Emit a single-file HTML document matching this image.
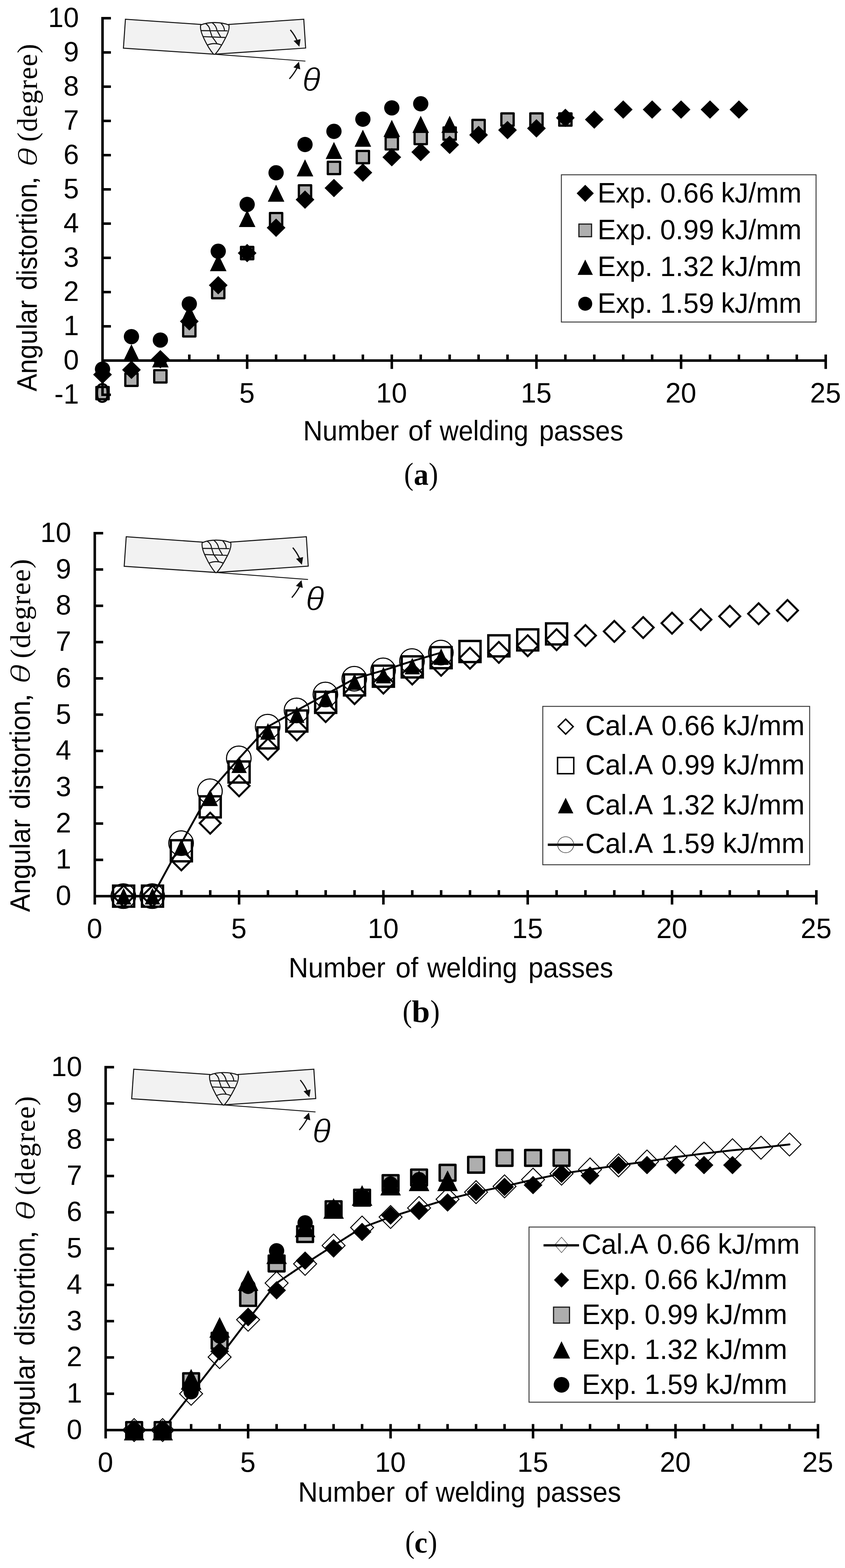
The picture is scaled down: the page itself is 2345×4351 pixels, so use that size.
<!DOCTYPE html>
<html lang="en">
<head>
<meta charset="utf-8">
<title>Angular distortion versus number of welding passes</title>
<style>
html,body{margin:0;padding:0;background:#fff;}
body{width:2345px;height:4351px;overflow:hidden;}
svg{display:block;}
text{fill:#000;}
</style>
</head>
<body>
<svg width="2345" height="4351" viewBox="0 0 2345 4351">
<rect width="2345" height="4351" fill="#fff"/>
<g id="chart-a">
<g transform="translate(348.1 53.3) scale(1 1)" fill="none" stroke="#151515" stroke-width="2.8" stroke-linejoin="miter">
<path d="M0 0L209.7 14.6L246.8 97.2L-5.6 80.4Z" fill="#f2f2f2"/>
<path d="M494.9 0L286.3 14.6L247.2 97.2L500.1 80Z" fill="#f2f2f2"/>
<path d="M246.8 97.2L499.5 116.3" stroke-width="2.4"/>
<path d="M208.8 16.1C222 10.5 236 9.2 246.8 9.2C258 9.2 273 10.5 287.2 16.1C289.5 27 284 41 275.6 56C268 71 258 87 248.8 97.4L244.8 97.4C236 87 226 71 219 56C211.5 41 206.5 27 208.8 16.1Z" fill="#f2f2f2" stroke-width="2.8"/>
<path d="M210 31.7L283.5 32.3M215.2 48.4L277 50.7M227.2 71.8Q246.8 63.5 267.6 72M222.6 12.2Q233.5 19 234.7 31.7L240.6 49Q248 58 254.5 68.5M241.1 10Q252 18 254.3 31.7L264.6 50M265.3 11.5Q274 19.5 275.1 32" stroke-width="2.8"/>
<path d="M457.6 29.6Q470.5 45 477 61" stroke-width="3.4"/>
<path d="M482.6 76.2L466.6 60L486 55.2Z" fill="#111" stroke="none"/>
<path d="M455 165.6Q467 152 476 136" stroke-width="3.4"/>
<path d="M481.6 118L485.2 139.2L466.2 133.6Z" fill="#111" stroke="none"/>
</g>
<text xml:space="preserve"><tspan x="838.82" y="252.19" font-size="90.88" font-family='"Liberation Sans", sans-serif' font-style="italic" stroke="#fff" stroke-width="1.6" stroke-linejoin="round" textLength="50.78" lengthAdjust="spacingAndGlyphs">θ</tspan></text>
<rect x="267.45" y="1073.82" width="34.1" height="34.1" fill="#aeaeae" stroke="#000" stroke-width="6.2" stroke-linejoin="round"/>
<rect x="347.73" y="1036.76" width="34.1" height="34.1" fill="#aeaeae" stroke="#000" stroke-width="6.2" stroke-linejoin="round"/>
<rect x="428.01" y="1027.26" width="34.1" height="34.1" fill="#aeaeae" stroke="#000" stroke-width="6.2" stroke-linejoin="round"/>
<rect x="508.29" y="899.46" width="34.1" height="34.1" fill="#aeaeae" stroke="#000" stroke-width="6.2" stroke-linejoin="round"/>
<rect x="588.57" y="793.51" width="34.1" height="34.1" fill="#aeaeae" stroke="#000" stroke-width="6.2" stroke-linejoin="round"/>
<rect x="668.85" y="685.19" width="34.1" height="34.1" fill="#aeaeae" stroke="#000" stroke-width="6.2" stroke-linejoin="round"/>
<rect x="749.13" y="591.12" width="34.1" height="34.1" fill="#aeaeae" stroke="#000" stroke-width="6.2" stroke-linejoin="round"/>
<rect x="829.41" y="514.15" width="34.1" height="34.1" fill="#aeaeae" stroke="#000" stroke-width="6.2" stroke-linejoin="round"/>
<rect x="909.69" y="448.97" width="34.1" height="34.1" fill="#aeaeae" stroke="#000" stroke-width="6.2" stroke-linejoin="round"/>
<rect x="989.97" y="418.85" width="34.1" height="34.1" fill="#aeaeae" stroke="#000" stroke-width="6.2" stroke-linejoin="round"/>
<rect x="1070.25" y="380.65" width="34.1" height="34.1" fill="#aeaeae" stroke="#000" stroke-width="6.2" stroke-linejoin="round"/>
<rect x="1150.53" y="365.92" width="34.1" height="34.1" fill="#aeaeae" stroke="#000" stroke-width="6.2" stroke-linejoin="round"/>
<rect x="1230.81" y="353.57" width="34.1" height="34.1" fill="#aeaeae" stroke="#000" stroke-width="6.2" stroke-linejoin="round"/>
<rect x="1311.09" y="332.66" width="34.1" height="34.1" fill="#aeaeae" stroke="#000" stroke-width="6.2" stroke-linejoin="round"/>
<rect x="1391.37" y="314.61" width="34.1" height="34.1" fill="#aeaeae" stroke="#000" stroke-width="6.2" stroke-linejoin="round"/>
<rect x="1471.65" y="314.61" width="34.1" height="34.1" fill="#aeaeae" stroke="#000" stroke-width="6.2" stroke-linejoin="round"/>
<rect x="1551.93" y="314.61" width="34.1" height="34.1" fill="#aeaeae" stroke="#000" stroke-width="6.2" stroke-linejoin="round"/>
<path d="M364.78 955L387.78 1002.5L341.78 1002.5Z" fill="#000"/>
<path d="M445.06 972.1L468.06 1019.6L422.06 1019.6Z" fill="#000"/>
<path d="M525.34 845.72L548.34 893.22L502.34 893.22Z" fill="#000"/>
<path d="M605.62 705.09L628.62 752.59L582.62 752.59Z" fill="#000"/>
<path d="M685.9 582.52L708.9 630.02L662.9 630.02Z" fill="#000"/>
<path d="M766.18 512.2L789.18 559.7L743.18 559.7Z" fill="#000"/>
<path d="M846.46 441.89L869.46 489.39L823.46 489.39Z" fill="#000"/>
<path d="M926.74 393.71L949.74 441.21L903.74 441.21Z" fill="#000"/>
<path d="M1007.02 359.79L1030.02 407.29L984.02 407.29Z" fill="#000"/>
<path d="M1087.3 332.61L1110.3 380.11L1064.3 380.11Z" fill="#000"/>
<path d="M1167.58 321.21L1190.58 368.71L1144.58 368.71Z" fill="#000"/>
<path d="M1247.86 321.21L1270.86 368.71L1224.86 368.71Z" fill="#000"/>
<circle cx="284.5" cy="1024.36" r="21.2" fill="#000" stroke="none" stroke-width="0"/>
<circle cx="364.78" cy="934.09" r="21.2" fill="#000" stroke="none" stroke-width="0"/>
<circle cx="445.06" cy="943.59" r="21.2" fill="#000" stroke="none" stroke-width="0"/>
<circle cx="525.34" cy="843.34" r="21.2" fill="#000" stroke="none" stroke-width="0"/>
<circle cx="605.62" cy="697.2" r="21.2" fill="#000" stroke="none" stroke-width="0"/>
<circle cx="685.9" cy="567.31" r="21.2" fill="#000" stroke="none" stroke-width="0"/>
<circle cx="766.18" cy="479.42" r="21.2" fill="#000" stroke="none" stroke-width="0"/>
<circle cx="846.46" cy="401.02" r="21.2" fill="#000" stroke="none" stroke-width="0"/>
<circle cx="926.74" cy="364.44" r="21.2" fill="#000" stroke="none" stroke-width="0"/>
<circle cx="1007.02" cy="330.71" r="21.2" fill="#000" stroke="none" stroke-width="0"/>
<circle cx="1087.3" cy="299.35" r="21.2" fill="#000" stroke="none" stroke-width="0"/>
<circle cx="1167.58" cy="287.95" r="21.2" fill="#000" stroke="none" stroke-width="0"/>
<path d="M284.5 1014.06L310.5 1039.56L284.5 1065.06L258.5 1039.56Z" fill="#000" stroke="none" stroke-width="0"/>
<path d="M364.78 1000.76L390.78 1026.26L364.78 1051.76L338.78 1026.26Z" fill="#000" stroke="none" stroke-width="0"/>
<path d="M445.06 971.3L471.06 996.8L445.06 1022.3L419.06 996.8Z" fill="#000" stroke="none" stroke-width="0"/>
<path d="M525.34 866.3L551.34 891.8L525.34 917.3L499.34 891.8Z" fill="#000" stroke="none" stroke-width="0"/>
<path d="M605.62 766.06L631.62 791.56L605.62 817.06L579.62 791.56Z" fill="#000" stroke="none" stroke-width="0"/>
<path d="M685.9 676.74L711.9 702.24L685.9 727.74L659.9 702.24Z" fill="#000" stroke="none" stroke-width="0"/>
<path d="M766.18 606.42L792.18 631.92L766.18 657.42L740.18 631.92Z" fill="#000" stroke="none" stroke-width="0"/>
<path d="M846.46 528.51L872.46 554.01L846.46 579.51L820.46 554.01Z" fill="#000" stroke="none" stroke-width="0"/>
<path d="M926.74 496.2L952.74 521.7L926.74 547.2L900.74 521.7Z" fill="#000" stroke="none" stroke-width="0"/>
<path d="M1007.02 453.44L1033.02 478.94L1007.02 504.44L981.02 478.94Z" fill="#000" stroke="none" stroke-width="0"/>
<path d="M1087.3 410.68L1113.3 436.18L1087.3 461.68L1061.3 436.18Z" fill="#000" stroke="none" stroke-width="0"/>
<path d="M1167.58 396.43L1193.58 421.93L1167.58 447.43L1141.58 421.93Z" fill="#000" stroke="none" stroke-width="0"/>
<path d="M1247.86 376.47L1273.86 401.97L1247.86 427.47L1221.86 401.97Z" fill="#000" stroke="none" stroke-width="0"/>
<path d="M1328.14 348.92L1354.14 374.42L1328.14 399.92L1302.14 374.42Z" fill="#000" stroke="none" stroke-width="0"/>
<path d="M1408.42 335.62L1434.42 361.12L1408.42 386.62L1382.42 361.12Z" fill="#000" stroke="none" stroke-width="0"/>
<path d="M1488.7 330.86L1514.7 356.36L1488.7 381.86L1462.7 356.36Z" fill="#000" stroke="none" stroke-width="0"/>
<path d="M1568.98 301.41L1594.98 326.91L1568.98 352.41L1542.98 326.91Z" fill="#000" stroke="none" stroke-width="0"/>
<path d="M1649.26 306.16L1675.26 331.66L1649.26 357.16L1623.26 331.66Z" fill="#000" stroke="none" stroke-width="0"/>
<path d="M1729.54 278.6L1755.54 304.1L1729.54 329.6L1703.54 304.1Z" fill="#000" stroke="none" stroke-width="0"/>
<path d="M1809.82 278.6L1835.82 304.1L1809.82 329.6L1783.82 304.1Z" fill="#000" stroke="none" stroke-width="0"/>
<path d="M1890.1 278.6L1916.1 304.1L1890.1 329.6L1864.1 304.1Z" fill="#000" stroke="none" stroke-width="0"/>
<path d="M1970.38 278.6L1996.38 304.1L1970.38 329.6L1944.38 304.1Z" fill="#000" stroke="none" stroke-width="0"/>
<path d="M2050.66 278.6L2076.66 304.1L2050.66 329.6L2024.66 304.1Z" fill="#000" stroke="none" stroke-width="0"/>
<path d="M284.5 46.9L284.5 1099.12M284.5 1000.6L2295 1000.6M284.5 1095.62L307.8 1095.62M284.5 1000.6L307.8 1000.6M284.5 905.58L307.8 905.58M284.5 810.56L307.8 810.56M284.5 715.54L307.8 715.54M284.5 620.52L307.8 620.52M284.5 525.5L307.8 525.5M284.5 430.48L307.8 430.48M284.5 335.46L307.8 335.46M284.5 240.44L307.8 240.44M284.5 145.42L307.8 145.42M284.5 50.4L307.8 50.4M364.78 983.8L364.78 1000.6M445.06 983.8L445.06 1000.6M525.34 983.8L525.34 1000.6M605.62 983.8L605.62 1000.6M685.9 983.8L685.9 1023.8M766.18 983.8L766.18 1000.6M846.46 983.8L846.46 1000.6M926.74 983.8L926.74 1000.6M1007.02 983.8L1007.02 1000.6M1087.3 983.8L1087.3 1023.8M1167.58 983.8L1167.58 1000.6M1247.86 983.8L1247.86 1000.6M1328.14 983.8L1328.14 1000.6M1408.42 983.8L1408.42 1000.6M1488.7 983.8L1488.7 1023.8M1568.98 983.8L1568.98 1000.6M1649.26 983.8L1649.26 1000.6M1729.54 983.8L1729.54 1000.6M1809.82 983.8L1809.82 1000.6M1890.1 983.8L1890.1 1023.8M1970.38 983.8L1970.38 1000.6M2050.66 983.8L2050.66 1000.6M2130.94 983.8L2130.94 1000.6M2211.22 983.8L2211.22 1000.6M2291.5 983.8L2291.5 1023.8" stroke="#000" stroke-width="7" fill="none"/>
<text x="219.2" y="1120.02" font-size="77" text-anchor="end" font-family='"Liberation Sans", sans-serif'>-1</text>
<text x="219.2" y="1025" font-size="77" text-anchor="end" font-family='"Liberation Sans", sans-serif'>0</text>
<text x="219.2" y="929.98" font-size="77" text-anchor="end" font-family='"Liberation Sans", sans-serif'>1</text>
<text x="219.2" y="834.96" font-size="77" text-anchor="end" font-family='"Liberation Sans", sans-serif'>2</text>
<text x="219.2" y="739.94" font-size="77" text-anchor="end" font-family='"Liberation Sans", sans-serif'>3</text>
<text x="219.2" y="644.92" font-size="77" text-anchor="end" font-family='"Liberation Sans", sans-serif'>4</text>
<text x="219.2" y="549.9" font-size="77" text-anchor="end" font-family='"Liberation Sans", sans-serif'>5</text>
<text x="219.2" y="454.88" font-size="77" text-anchor="end" font-family='"Liberation Sans", sans-serif'>6</text>
<text x="219.2" y="359.86" font-size="77" text-anchor="end" font-family='"Liberation Sans", sans-serif'>7</text>
<text x="219.2" y="264.84" font-size="77" text-anchor="end" font-family='"Liberation Sans", sans-serif'>8</text>
<text x="219.2" y="169.82" font-size="77" text-anchor="end" font-family='"Liberation Sans", sans-serif'>9</text>
<text x="219.2" y="74.8" font-size="77" text-anchor="end" font-family='"Liberation Sans", sans-serif'>10</text>
<text x="283.9" y="1116.7" font-size="77" text-anchor="middle" font-family='"Liberation Sans", sans-serif'>0</text>
<text x="685.3" y="1116.7" font-size="77" text-anchor="middle" font-family='"Liberation Sans", sans-serif'>5</text>
<text x="1086.7" y="1116.7" font-size="77" text-anchor="middle" font-family='"Liberation Sans", sans-serif'>10</text>
<text x="1488.1" y="1116.7" font-size="77" text-anchor="middle" font-family='"Liberation Sans", sans-serif'>15</text>
<text x="1889.5" y="1116.7" font-size="77" text-anchor="middle" font-family='"Liberation Sans", sans-serif'>20</text>
<text x="2290.9" y="1116.7" font-size="77" text-anchor="middle" font-family='"Liberation Sans", sans-serif'>25</text>
<text transform="translate(101.9 1086.2) rotate(-90)" xml:space="preserve"><tspan x="-0.18" y="0" font-size="77" font-family='"Liberation Sans", sans-serif' textLength="253.54" lengthAdjust="spacingAndGlyphs">Angular</tspan> <tspan x="281.2" y="0" font-size="77" font-family='"Liberation Sans", sans-serif' textLength="296.18" lengthAdjust="spacingAndGlyphs">distortion</tspan><tspan x="573.15" y="-0.5" font-size="72" font-family='"Liberation Sans", sans-serif' textLength="24.22" lengthAdjust="spacingAndGlyphs">,</tspan> <tspan x="623.31" y="0.75" font-size="74.83" font-family='"Liberation Sans", sans-serif' font-style="italic" stroke="#fff" stroke-width="1.8" stroke-linejoin="round" textLength="53.02" lengthAdjust="spacingAndGlyphs">θ</tspan> <tspan x="692.68" y="0" font-size="78" font-family='"Liberation Serif", serif' textLength="271.68" lengthAdjust="spacing">(degree)</tspan></text>
<text xml:space="preserve"><tspan x="841.14" y="1222.1" font-size="77" font-family='"Liberation Sans", sans-serif' textLength="265.71" lengthAdjust="spacingAndGlyphs">Number</tspan> <tspan x="1132.96" y="1222.1" font-size="77" font-family='"Liberation Sans", sans-serif' textLength="63.67" lengthAdjust="spacingAndGlyphs">of</tspan> <tspan x="1220.28" y="1222.1" font-size="77" font-family='"Liberation Sans", sans-serif' textLength="246.15" lengthAdjust="spacingAndGlyphs">welding</tspan> <tspan x="1496.31" y="1222.1" font-size="77" font-family='"Liberation Sans", sans-serif' textLength="233.65" lengthAdjust="spacingAndGlyphs">passes</tspan></text>
<rect x="1557.9" y="485" width="706.8" height="408.6" fill="#fff" stroke="#3a3a3a" stroke-width="2.6"/>
<path d="M1624.1 512.7L1647.9 536.5L1624.1 560.3L1600.3 536.5Z" fill="#000" stroke="none" stroke-width="0"/>
<rect x="1606.55" y="621.75" width="35.1" height="35.1" fill="#aeaeae" stroke="#1a1a1a" stroke-width="3.2"/>
<path d="M1624.1 720.15L1645.3 762.85L1602.9 762.85Z" fill="#000"/>
<circle cx="1624.1" cy="842.8" r="19.4" fill="#000" stroke="none" stroke-width="0"/>
<text xml:space="preserve"><tspan x="1658.21" y="561.8" font-size="77" font-family='"Liberation Sans", sans-serif' textLength="152.64" lengthAdjust="spacingAndGlyphs">Exp.</tspan> <tspan x="1832.12" y="561.8" font-size="77" font-family='"Liberation Sans", sans-serif' textLength="149.65" lengthAdjust="spacingAndGlyphs">0.66</tspan> <tspan x="2000.97" y="561.8" font-size="77" font-family='"Liberation Sans", sans-serif' textLength="223.57" lengthAdjust="spacingAndGlyphs">kJ/mm</tspan></text>
<text xml:space="preserve"><tspan x="1658.21" y="663.9" font-size="77" font-family='"Liberation Sans", sans-serif' textLength="152.64" lengthAdjust="spacingAndGlyphs">Exp.</tspan> <tspan x="1832.12" y="663.9" font-size="77" font-family='"Liberation Sans", sans-serif' textLength="149.65" lengthAdjust="spacingAndGlyphs">0.99</tspan> <tspan x="2000.97" y="663.9" font-size="77" font-family='"Liberation Sans", sans-serif' textLength="223.57" lengthAdjust="spacingAndGlyphs">kJ/mm</tspan></text>
<text xml:space="preserve"><tspan x="1658.21" y="766.3" font-size="77" font-family='"Liberation Sans", sans-serif' textLength="152.64" lengthAdjust="spacingAndGlyphs">Exp.</tspan> <tspan x="1832.12" y="766.3" font-size="77" font-family='"Liberation Sans", sans-serif' textLength="149.65" lengthAdjust="spacingAndGlyphs">1.32</tspan> <tspan x="2000.97" y="766.3" font-size="77" font-family='"Liberation Sans", sans-serif' textLength="223.57" lengthAdjust="spacingAndGlyphs">kJ/mm</tspan></text>
<text xml:space="preserve"><tspan x="1658.21" y="868.4" font-size="77" font-family='"Liberation Sans", sans-serif' textLength="152.64" lengthAdjust="spacingAndGlyphs">Exp.</tspan> <tspan x="1832.12" y="868.4" font-size="77" font-family='"Liberation Sans", sans-serif' textLength="149.65" lengthAdjust="spacingAndGlyphs">1.59</tspan> <tspan x="2000.97" y="868.4" font-size="77" font-family='"Liberation Sans", sans-serif' textLength="223.57" lengthAdjust="spacingAndGlyphs">kJ/mm</tspan></text>
<text xml:space="preserve"><tspan x="1121.48" y="1343.69" font-size="86.17" font-family='"Liberation Serif", serif' textLength="25.99" lengthAdjust="spacingAndGlyphs">(</tspan><tspan x="1148.33" y="1344.75" font-size="84.58" font-family='"Liberation Serif", serif' font-weight="bold" textLength="41.1" lengthAdjust="spacingAndGlyphs">a</tspan><tspan x="1189.65" y="1343.69" font-size="86.17" font-family='"Liberation Serif", serif' textLength="26.12" lengthAdjust="spacingAndGlyphs">)</tspan></text>
</g>
<g id="chart-b">
<g transform="translate(350.3 1489.4) scale(1.01 1.02)" fill="none" stroke="#151515" stroke-width="2.8" stroke-linejoin="miter">
<path d="M0 0L209.7 14.6L246.8 97.2L-5.6 80.4Z" fill="#f2f2f2"/>
<path d="M494.9 0L286.3 14.6L247.2 97.2L500.1 80Z" fill="#f2f2f2"/>
<path d="M246.8 97.2L499.5 116.3" stroke-width="2.4"/>
<path d="M208.8 16.1C222 10.5 236 9.2 246.8 9.2C258 9.2 273 10.5 287.2 16.1C289.5 27 284 41 275.6 56C268 71 258 87 248.8 97.4L244.8 97.4C236 87 226 71 219 56C211.5 41 206.5 27 208.8 16.1Z" fill="#f2f2f2" stroke-width="2.8"/>
<path d="M210 31.7L283.5 32.3M215.2 48.4L277 50.7M227.2 71.8Q246.8 63.5 267.6 72M222.6 12.2Q233.5 19 234.7 31.7L240.6 49Q248 58 254.5 68.5M241.1 10Q252 18 254.3 31.7L264.6 50M265.3 11.5Q274 19.5 275.1 32" stroke-width="2.8"/>
<path d="M457.6 29.6Q470.5 45 477 61" stroke-width="3.4"/>
<path d="M482.6 76.2L466.6 60L486 55.2Z" fill="#111" stroke="none"/>
<path d="M455 165.6Q467 152 476 136" stroke-width="3.4"/>
<path d="M481.6 118L485.2 139.2L466.2 133.6Z" fill="#111" stroke="none"/>
</g>
<text xml:space="preserve"><tspan x="848.39" y="1693.24" font-size="93.1" font-family='"Liberation Sans", sans-serif' font-style="italic" stroke="#fff" stroke-width="1.6" stroke-linejoin="round" textLength="51.52" lengthAdjust="spacingAndGlyphs">θ</tspan></text>
<path d="M343.1 2457.6L372.2 2486.7L343.1 2515.8L314 2486.7Z" fill="none" stroke="#000" stroke-width="5.5"/>
<path d="M423.2 2457.6L452.3 2486.7L423.2 2515.8L394.1 2486.7Z" fill="none" stroke="#000" stroke-width="5.5"/>
<path d="M503.3 2356.88L532.4 2385.98L503.3 2415.08L474.2 2385.98Z" fill="none" stroke="#000" stroke-width="5.5"/>
<path d="M583.4 2255.15L612.5 2284.25L583.4 2313.35L554.3 2284.25Z" fill="none" stroke="#000" stroke-width="5.5"/>
<path d="M663.5 2151.41L692.6 2180.51L663.5 2209.61L634.4 2180.51Z" fill="none" stroke="#000" stroke-width="5.5"/>
<path d="M743.6 2049.68L772.7 2078.78L743.6 2107.88L714.5 2078.78Z" fill="none" stroke="#000" stroke-width="5.5"/>
<path d="M823.7 1996.3L852.8 2025.4L823.7 2054.5L794.6 2025.4Z" fill="none" stroke="#000" stroke-width="5.5"/>
<path d="M903.8 1945.44L932.9 1974.54L903.8 2003.64L874.7 1974.54Z" fill="none" stroke="#000" stroke-width="5.5"/>
<path d="M983.9 1895.58L1013 1924.68L983.9 1953.78L954.8 1924.68Z" fill="none" stroke="#000" stroke-width="5.5"/>
<path d="M1064 1866.37L1093.1 1895.47L1064 1924.57L1034.9 1895.47Z" fill="none" stroke="#000" stroke-width="5.5"/>
<path d="M1144.1 1841.19L1173.2 1870.29L1144.1 1899.39L1115 1870.29Z" fill="none" stroke="#000" stroke-width="5.5"/>
<path d="M1224.2 1817.02L1253.3 1846.12L1224.2 1875.22L1195.1 1846.12Z" fill="none" stroke="#000" stroke-width="5.5"/>
<path d="M1304.3 1797.38L1333.4 1826.48L1304.3 1855.58L1275.2 1826.48Z" fill="none" stroke="#000" stroke-width="5.5"/>
<path d="M1384.4 1781.27L1413.5 1810.37L1384.4 1839.47L1355.3 1810.37Z" fill="none" stroke="#000" stroke-width="5.5"/>
<path d="M1464.5 1762.63L1493.6 1791.73L1464.5 1820.83L1435.4 1791.73Z" fill="none" stroke="#000" stroke-width="5.5"/>
<path d="M1544.6 1746.01L1573.7 1775.11L1544.6 1804.21L1515.5 1775.11Z" fill="none" stroke="#000" stroke-width="5.5"/>
<path d="M1624.7 1734.43L1653.8 1763.53L1624.7 1792.63L1595.6 1763.53Z" fill="none" stroke="#000" stroke-width="5.5"/>
<path d="M1704.8 1722.95L1733.9 1752.05L1704.8 1781.15L1675.7 1752.05Z" fill="none" stroke="#000" stroke-width="5.5"/>
<path d="M1784.9 1712.27L1814 1741.37L1784.9 1770.47L1755.8 1741.37Z" fill="none" stroke="#000" stroke-width="5.5"/>
<path d="M1865 1700.19L1894.1 1729.29L1865 1758.39L1835.9 1729.29Z" fill="none" stroke="#000" stroke-width="5.5"/>
<path d="M1945.1 1690.11L1974.2 1719.21L1945.1 1748.31L1916 1719.21Z" fill="none" stroke="#000" stroke-width="5.5"/>
<path d="M2025.2 1681.05L2054.3 1710.15L2025.2 1739.25L1996.1 1710.15Z" fill="none" stroke="#000" stroke-width="5.5"/>
<path d="M2105.3 1674L2134.4 1703.1L2105.3 1732.2L2076.2 1703.1Z" fill="none" stroke="#000" stroke-width="5.5"/>
<path d="M2185.4 1664.93L2214.5 1694.03L2185.4 1723.13L2156.3 1694.03Z" fill="none" stroke="#000" stroke-width="5.5"/>
<rect x="313.85" y="2457.45" width="58.5" height="58.5" fill="none" stroke="#000" stroke-width="6.5"/>
<rect x="393.95" y="2457.45" width="58.5" height="58.5" fill="none" stroke="#000" stroke-width="6.5"/>
<rect x="474.05" y="2331.55" width="58.5" height="58.5" fill="none" stroke="#000" stroke-width="6.5"/>
<rect x="554.15" y="2209.68" width="58.5" height="58.5" fill="none" stroke="#000" stroke-width="6.5"/>
<rect x="634.25" y="2112.99" width="58.5" height="58.5" fill="none" stroke="#000" stroke-width="6.5"/>
<rect x="714.35" y="2018.31" width="58.5" height="58.5" fill="none" stroke="#000" stroke-width="6.5"/>
<rect x="794.45" y="1971.48" width="58.5" height="58.5" fill="none" stroke="#000" stroke-width="6.5"/>
<rect x="874.55" y="1919.61" width="58.5" height="58.5" fill="none" stroke="#000" stroke-width="6.5"/>
<rect x="954.65" y="1871.26" width="58.5" height="58.5" fill="none" stroke="#000" stroke-width="6.5"/>
<rect x="1034.75" y="1847.09" width="58.5" height="58.5" fill="none" stroke="#000" stroke-width="6.5"/>
<rect x="1114.85" y="1821.3" width="58.5" height="58.5" fill="none" stroke="#000" stroke-width="6.5"/>
<rect x="1194.95" y="1795.72" width="58.5" height="58.5" fill="none" stroke="#000" stroke-width="6.5"/>
<rect x="1275.05" y="1778.6" width="58.5" height="58.5" fill="none" stroke="#000" stroke-width="6.5"/>
<rect x="1355.15" y="1762.88" width="58.5" height="58.5" fill="none" stroke="#000" stroke-width="6.5"/>
<rect x="1435.25" y="1746.37" width="58.5" height="58.5" fill="none" stroke="#000" stroke-width="6.5"/>
<rect x="1515.35" y="1729.75" width="58.5" height="58.5" fill="none" stroke="#000" stroke-width="6.5"/>
<path d="M343.1 2463.7L364.35 2509.7L321.85 2509.7Z" fill="#000"/>
<path d="M423.2 2463.7L444.45 2509.7L401.95 2509.7Z" fill="#000"/>
<path d="M503.3 2327.73L524.55 2373.73L482.05 2373.73Z" fill="#000"/>
<path d="M583.4 2190.75L604.65 2236.75L562.15 2236.75Z" fill="#000"/>
<path d="M663.5 2099.09L684.75 2145.09L642.25 2145.09Z" fill="#000"/>
<path d="M743.6 2006.43L764.85 2052.43L722.35 2052.43Z" fill="#000"/>
<path d="M823.7 1960.1L844.95 2006.1L802.45 2006.1Z" fill="#000"/>
<path d="M903.8 1913.77L925.05 1959.77L882.55 1959.77Z" fill="#000"/>
<path d="M983.9 1868.44L1005.15 1914.44L962.65 1914.44Z" fill="#000"/>
<path d="M1064 1850.32L1085.25 1896.32L1042.75 1896.32Z" fill="#000"/>
<path d="M1144.1 1825.14L1165.35 1871.14L1122.85 1871.14Z" fill="#000"/>
<path d="M1224.2 1798.95L1245.45 1844.95L1202.95 1844.95Z" fill="#000"/>
<polyline points="343.1,2486.7 423.2,2486.7 503.3,2339.65 583.4,2195.62 663.5,2104.47 743.6,2016.34 823.7,1971.32 903.8,1927.2 983.9,1883.39 1064,1860.22 1144.1,1834.44 1224.2,1810.87" fill="none" stroke="#000" stroke-width="5.2" stroke-linejoin="round" stroke-linecap="round"/>
<circle cx="342.3" cy="2486.7" r="34.15" fill="none" stroke="#000" stroke-width="3"/>
<circle cx="422.4" cy="2486.7" r="34.15" fill="none" stroke="#000" stroke-width="3"/>
<circle cx="502.5" cy="2339.65" r="34.15" fill="none" stroke="#000" stroke-width="3"/>
<circle cx="582.6" cy="2195.62" r="34.15" fill="none" stroke="#000" stroke-width="3"/>
<circle cx="662.7" cy="2104.47" r="34.15" fill="none" stroke="#000" stroke-width="3"/>
<circle cx="742.8" cy="2016.34" r="34.15" fill="none" stroke="#000" stroke-width="3"/>
<circle cx="822.9" cy="1971.32" r="34.15" fill="none" stroke="#000" stroke-width="3"/>
<circle cx="903" cy="1927.2" r="34.15" fill="none" stroke="#000" stroke-width="3"/>
<circle cx="983.1" cy="1883.39" r="34.15" fill="none" stroke="#000" stroke-width="3"/>
<circle cx="1063.2" cy="1860.22" r="34.15" fill="none" stroke="#000" stroke-width="3"/>
<circle cx="1143.3" cy="1834.44" r="34.15" fill="none" stroke="#000" stroke-width="3"/>
<circle cx="1223.4" cy="1810.87" r="34.15" fill="none" stroke="#000" stroke-width="3"/>
<path d="M263 1476L263 2509.9M263 2486.7L2269 2486.7M263 2486.7L286.3 2486.7M263 2385.98L286.3 2385.98M263 2285.26L286.3 2285.26M263 2184.54L286.3 2184.54M263 2083.82L286.3 2083.82M263 1983.1L286.3 1983.1M263 1882.38L286.3 1882.38M263 1781.66L286.3 1781.66M263 1680.94L286.3 1680.94M263 1580.22L286.3 1580.22M263 1479.5L286.3 1479.5M343.1 2469.9L343.1 2486.7M423.2 2469.9L423.2 2486.7M503.3 2469.9L503.3 2486.7M583.4 2469.9L583.4 2486.7M663.5 2469.9L663.5 2509.9M743.6 2469.9L743.6 2486.7M823.7 2469.9L823.7 2486.7M903.8 2469.9L903.8 2486.7M983.9 2469.9L983.9 2486.7M1064 2469.9L1064 2509.9M1144.1 2469.9L1144.1 2486.7M1224.2 2469.9L1224.2 2486.7M1304.3 2469.9L1304.3 2486.7M1384.4 2469.9L1384.4 2486.7M1464.5 2469.9L1464.5 2509.9M1544.6 2469.9L1544.6 2486.7M1624.7 2469.9L1624.7 2486.7M1704.8 2469.9L1704.8 2486.7M1784.9 2469.9L1784.9 2486.7M1865 2469.9L1865 2509.9M1945.1 2469.9L1945.1 2486.7M2025.2 2469.9L2025.2 2486.7M2105.3 2469.9L2105.3 2486.7M2185.4 2469.9L2185.4 2486.7M2265.5 2469.9L2265.5 2509.9" stroke="#000" stroke-width="7" fill="none"/>
<text x="197.7" y="2511.1" font-size="77" text-anchor="end" font-family='"Liberation Sans", sans-serif'>0</text>
<text x="197.7" y="2410.38" font-size="77" text-anchor="end" font-family='"Liberation Sans", sans-serif'>1</text>
<text x="197.7" y="2309.66" font-size="77" text-anchor="end" font-family='"Liberation Sans", sans-serif'>2</text>
<text x="197.7" y="2208.94" font-size="77" text-anchor="end" font-family='"Liberation Sans", sans-serif'>3</text>
<text x="197.7" y="2108.22" font-size="77" text-anchor="end" font-family='"Liberation Sans", sans-serif'>4</text>
<text x="197.7" y="2007.5" font-size="77" text-anchor="end" font-family='"Liberation Sans", sans-serif'>5</text>
<text x="197.7" y="1906.78" font-size="77" text-anchor="end" font-family='"Liberation Sans", sans-serif'>6</text>
<text x="197.7" y="1806.06" font-size="77" text-anchor="end" font-family='"Liberation Sans", sans-serif'>7</text>
<text x="197.7" y="1705.34" font-size="77" text-anchor="end" font-family='"Liberation Sans", sans-serif'>8</text>
<text x="197.7" y="1604.62" font-size="77" text-anchor="end" font-family='"Liberation Sans", sans-serif'>9</text>
<text x="197.7" y="1503.9" font-size="77" text-anchor="end" font-family='"Liberation Sans", sans-serif'>10</text>
<text x="262.4" y="2602.8" font-size="77" text-anchor="middle" font-family='"Liberation Sans", sans-serif'>0</text>
<text x="662.9" y="2602.8" font-size="77" text-anchor="middle" font-family='"Liberation Sans", sans-serif'>5</text>
<text x="1063.4" y="2602.8" font-size="77" text-anchor="middle" font-family='"Liberation Sans", sans-serif'>10</text>
<text x="1463.9" y="2602.8" font-size="77" text-anchor="middle" font-family='"Liberation Sans", sans-serif'>15</text>
<text x="1864.4" y="2602.8" font-size="77" text-anchor="middle" font-family='"Liberation Sans", sans-serif'>20</text>
<text x="2264.9" y="2602.8" font-size="77" text-anchor="middle" font-family='"Liberation Sans", sans-serif'>25</text>
<text transform="translate(82.5 2530.5) rotate(-90)" xml:space="preserve"><tspan x="-0.19" y="0" font-size="77" font-family='"Liberation Sans", sans-serif' textLength="257.47" lengthAdjust="spacingAndGlyphs">Angular</tspan> <tspan x="285.56" y="0" font-size="77" font-family='"Liberation Sans", sans-serif' textLength="300.77" lengthAdjust="spacingAndGlyphs">distortion</tspan><tspan x="582.04" y="-0.5" font-size="72" font-family='"Liberation Sans", sans-serif' textLength="24.6" lengthAdjust="spacingAndGlyphs">,</tspan> <tspan x="632.99" y="0.74" font-size="75.65" font-family='"Liberation Sans", sans-serif' font-style="italic" stroke="#fff" stroke-width="1.8" stroke-linejoin="round" textLength="53.81" lengthAdjust="spacingAndGlyphs">θ</tspan> <tspan x="703.47" y="0" font-size="78" font-family='"Liberation Serif", serif' textLength="275.79" lengthAdjust="spacing">(degree)</tspan></text>
<text xml:space="preserve"><tspan x="800.66" y="2712.1" font-size="77" font-family='"Liberation Sans", sans-serif' textLength="269.11" lengthAdjust="spacingAndGlyphs">Number</tspan> <tspan x="1097.68" y="2712.1" font-size="77" font-family='"Liberation Sans", sans-serif' textLength="63.25" lengthAdjust="spacingAndGlyphs">of</tspan> <tspan x="1185.38" y="2712.1" font-size="77" font-family='"Liberation Sans", sans-serif' textLength="250.02" lengthAdjust="spacingAndGlyphs">welding</tspan> <tspan x="1466.27" y="2712.1" font-size="77" font-family='"Liberation Sans", sans-serif' textLength="235.51" lengthAdjust="spacingAndGlyphs">passes</tspan></text>
<rect x="1506.3" y="1960.1" width="740.6" height="439.5" fill="#fff" stroke="#3a3a3a" stroke-width="2.6"/>
<path d="M1569.8 1995.5L1590.7 2016.3L1569.8 2037.1L1548.9 2016.3Z" fill="none" stroke="#000" stroke-width="4"/>
<rect x="1547.3" y="2101.9" width="45" height="45" fill="none" stroke="#000" stroke-width="4"/>
<path d="M1569.8 2213.7L1591.15 2256.9L1548.45 2256.9Z" fill="#000"/>
<path d="M1520.2 2344H1618.2" stroke="#000" stroke-width="6.3" fill="none"/>
<circle cx="1569.8" cy="2344" r="22.2" fill="none" stroke="#333" stroke-width="1.6"/>
<text xml:space="preserve"><tspan x="1624.36" y="2039.5" font-size="77" font-family='"Liberation Sans", sans-serif' textLength="187.66" lengthAdjust="spacingAndGlyphs">Cal.A</tspan> <tspan x="1835.54" y="2039.5" font-size="77" font-family='"Liberation Sans", sans-serif' textLength="148.71" lengthAdjust="spacingAndGlyphs">0.66</tspan> <tspan x="2005.89" y="2039.5" font-size="77" font-family='"Liberation Sans", sans-serif' textLength="227.02" lengthAdjust="spacingAndGlyphs">kJ/mm</tspan></text>
<text xml:space="preserve"><tspan x="1624.36" y="2148.6" font-size="77" font-family='"Liberation Sans", sans-serif' textLength="187.66" lengthAdjust="spacingAndGlyphs">Cal.A</tspan> <tspan x="1835.54" y="2148.6" font-size="77" font-family='"Liberation Sans", sans-serif' textLength="148.71" lengthAdjust="spacingAndGlyphs">0.99</tspan> <tspan x="2005.89" y="2148.6" font-size="77" font-family='"Liberation Sans", sans-serif' textLength="227.02" lengthAdjust="spacingAndGlyphs">kJ/mm</tspan></text>
<text xml:space="preserve"><tspan x="1624.36" y="2259.6" font-size="77" font-family='"Liberation Sans", sans-serif' textLength="187.66" lengthAdjust="spacingAndGlyphs">Cal.A</tspan> <tspan x="1835.54" y="2259.6" font-size="77" font-family='"Liberation Sans", sans-serif' textLength="148.71" lengthAdjust="spacingAndGlyphs">1.32</tspan> <tspan x="2005.89" y="2259.6" font-size="77" font-family='"Liberation Sans", sans-serif' textLength="227.02" lengthAdjust="spacingAndGlyphs">kJ/mm</tspan></text>
<text xml:space="preserve"><tspan x="1624.36" y="2367.2" font-size="77" font-family='"Liberation Sans", sans-serif' textLength="187.66" lengthAdjust="spacingAndGlyphs">Cal.A</tspan> <tspan x="1835.54" y="2367.2" font-size="77" font-family='"Liberation Sans", sans-serif' textLength="148.71" lengthAdjust="spacingAndGlyphs">1.59</tspan> <tspan x="2005.89" y="2367.2" font-size="77" font-family='"Liberation Sans", sans-serif' textLength="227.02" lengthAdjust="spacingAndGlyphs">kJ/mm</tspan></text>
<text xml:space="preserve"><tspan x="1117.37" y="2835.48" font-size="85.73" font-family='"Liberation Serif", serif' textLength="26.12" lengthAdjust="spacingAndGlyphs">(</tspan><tspan x="1142.77" y="2836.03" font-size="86.52" font-family='"Liberation Serif", serif' font-weight="bold" textLength="50.25" lengthAdjust="spacingAndGlyphs">b</tspan><tspan x="1194.25" y="2835.48" font-size="85.73" font-family='"Liberation Serif", serif' textLength="26.12" lengthAdjust="spacingAndGlyphs">)</tspan></text>
</g>
<g id="chart-c">
<g transform="translate(371.1 2966.8) scale(1.01 1.02)" fill="none" stroke="#151515" stroke-width="2.8" stroke-linejoin="miter">
<path d="M0 0L209.7 14.6L246.8 97.2L-5.6 80.4Z" fill="#f2f2f2"/>
<path d="M494.9 0L286.3 14.6L247.2 97.2L500.1 80Z" fill="#f2f2f2"/>
<path d="M246.8 97.2L499.5 116.3" stroke-width="2.4"/>
<path d="M208.8 16.1C222 10.5 236 9.2 246.8 9.2C258 9.2 273 10.5 287.2 16.1C289.5 27 284 41 275.6 56C268 71 258 87 248.8 97.4L244.8 97.4C236 87 226 71 219 56C211.5 41 206.5 27 208.8 16.1Z" fill="#f2f2f2" stroke-width="2.8"/>
<path d="M210 31.7L283.5 32.3M215.2 48.4L277 50.7M227.2 71.8Q246.8 63.5 267.6 72M222.6 12.2Q233.5 19 234.7 31.7L240.6 49Q248 58 254.5 68.5M241.1 10Q252 18 254.3 31.7L264.6 50M265.3 11.5Q274 19.5 275.1 32" stroke-width="2.8"/>
<path d="M457.6 29.6Q470.5 45 477 61" stroke-width="3.4"/>
<path d="M482.6 76.2L466.6 60L486 55.2Z" fill="#111" stroke="none"/>
<path d="M455 165.6Q467 152 476 136" stroke-width="3.4"/>
<path d="M481.6 118L485.2 139.2L466.2 133.6Z" fill="#111" stroke="none"/>
</g>
<text xml:space="preserve"><tspan x="866.74" y="3169.65" font-size="92.66" font-family='"Liberation Sans", sans-serif' font-style="italic" stroke="#fff" stroke-width="1.6" stroke-linejoin="round" textLength="51.27" lengthAdjust="spacingAndGlyphs">θ</tspan></text>
<polyline points="372.27,3968.2 451.34,3968.2 530.42,3867.5 609.49,3765.79 688.56,3662.07 767.63,3560.36 846.7,3506.99 925.78,3456.14 1004.85,3406.29 1083.92,3377.09 1162.99,3351.92 1242.06,3327.75 1321.14,3308.11 1400.21,3292 1479.28,3273.37 1558.35,3256.75 1637.42,3245.17 1716.5,3233.69 1795.57,3223.02 1874.64,3210.94 1953.71,3200.87 2032.78,3191.8 2111.86,3184.75 2190.93,3175.69" fill="none" stroke="#000" stroke-width="5.2" stroke-linejoin="round" stroke-linecap="round"/>
<path d="M372.27 3936.3L404.17 3968.2L372.27 4000.1L340.37 3968.2Z" fill="none" stroke="#000" stroke-width="2.6"/>
<path d="M451.34 3936.3L483.24 3968.2L451.34 4000.1L419.44 3968.2Z" fill="none" stroke="#000" stroke-width="2.6"/>
<path d="M530.42 3835.6L562.32 3867.5L530.42 3899.4L498.52 3867.5Z" fill="none" stroke="#000" stroke-width="2.6"/>
<path d="M609.49 3733.89L641.39 3765.79L609.49 3797.69L577.59 3765.79Z" fill="none" stroke="#000" stroke-width="2.6"/>
<path d="M688.56 3630.17L720.46 3662.07L688.56 3693.97L656.66 3662.07Z" fill="none" stroke="#000" stroke-width="2.6"/>
<path d="M767.63 3528.46L799.53 3560.36L767.63 3592.26L735.73 3560.36Z" fill="none" stroke="#000" stroke-width="2.6"/>
<path d="M846.7 3475.09L878.6 3506.99L846.7 3538.89L814.8 3506.99Z" fill="none" stroke="#000" stroke-width="2.6"/>
<path d="M925.78 3424.24L957.68 3456.14L925.78 3488.04L893.88 3456.14Z" fill="none" stroke="#000" stroke-width="2.6"/>
<path d="M1004.85 3374.39L1036.75 3406.29L1004.85 3438.19L972.95 3406.29Z" fill="none" stroke="#000" stroke-width="2.6"/>
<path d="M1083.92 3345.19L1115.82 3377.09L1083.92 3408.99L1052.02 3377.09Z" fill="none" stroke="#000" stroke-width="2.6"/>
<path d="M1162.99 3320.02L1194.89 3351.92L1162.99 3383.82L1131.09 3351.92Z" fill="none" stroke="#000" stroke-width="2.6"/>
<path d="M1242.06 3295.85L1273.96 3327.75L1242.06 3359.65L1210.16 3327.75Z" fill="none" stroke="#000" stroke-width="2.6"/>
<path d="M1321.14 3276.21L1353.04 3308.11L1321.14 3340.01L1289.24 3308.11Z" fill="none" stroke="#000" stroke-width="2.6"/>
<path d="M1400.21 3260.1L1432.11 3292L1400.21 3323.9L1368.31 3292Z" fill="none" stroke="#000" stroke-width="2.6"/>
<path d="M1479.28 3241.47L1511.18 3273.37L1479.28 3305.27L1447.38 3273.37Z" fill="none" stroke="#000" stroke-width="2.6"/>
<path d="M1558.35 3224.85L1590.25 3256.75L1558.35 3288.65L1526.45 3256.75Z" fill="none" stroke="#000" stroke-width="2.6"/>
<path d="M1637.42 3213.27L1669.32 3245.17L1637.42 3277.07L1605.52 3245.17Z" fill="none" stroke="#000" stroke-width="2.6"/>
<path d="M1716.5 3201.79L1748.4 3233.69L1716.5 3265.59L1684.6 3233.69Z" fill="none" stroke="#000" stroke-width="2.6"/>
<path d="M1795.57 3191.12L1827.47 3223.02L1795.57 3254.92L1763.67 3223.02Z" fill="none" stroke="#000" stroke-width="2.6"/>
<path d="M1874.64 3179.04L1906.54 3210.94L1874.64 3242.84L1842.74 3210.94Z" fill="none" stroke="#000" stroke-width="2.6"/>
<path d="M1953.71 3168.97L1985.61 3200.87L1953.71 3232.77L1921.81 3200.87Z" fill="none" stroke="#000" stroke-width="2.6"/>
<path d="M2032.78 3159.9L2064.68 3191.8L2032.78 3223.7L2000.88 3191.8Z" fill="none" stroke="#000" stroke-width="2.6"/>
<path d="M2111.86 3152.85L2143.76 3184.75L2111.86 3216.65L2079.96 3184.75Z" fill="none" stroke="#000" stroke-width="2.6"/>
<path d="M2190.93 3143.79L2222.83 3175.69L2190.93 3207.59L2159.03 3175.69Z" fill="none" stroke="#000" stroke-width="2.6"/>
<rect x="350.42" y="3946.35" width="43.7" height="43.7" fill="#aeaeae" stroke="#000" stroke-width="6.7" stroke-linejoin="round"/>
<rect x="429.49" y="3946.35" width="43.7" height="43.7" fill="#aeaeae" stroke="#000" stroke-width="6.7" stroke-linejoin="round"/>
<rect x="508.57" y="3810.91" width="43.7" height="43.7" fill="#aeaeae" stroke="#000" stroke-width="6.7" stroke-linejoin="round"/>
<rect x="587.64" y="3698.63" width="43.7" height="43.7" fill="#aeaeae" stroke="#000" stroke-width="6.7" stroke-linejoin="round"/>
<rect x="666.71" y="3579.8" width="43.7" height="43.7" fill="#aeaeae" stroke="#000" stroke-width="6.7" stroke-linejoin="round"/>
<rect x="745.78" y="3484.14" width="43.7" height="43.7" fill="#aeaeae" stroke="#000" stroke-width="6.7" stroke-linejoin="round"/>
<rect x="824.85" y="3402.57" width="43.7" height="43.7" fill="#aeaeae" stroke="#000" stroke-width="6.7" stroke-linejoin="round"/>
<rect x="903.93" y="3333.49" width="43.7" height="43.7" fill="#aeaeae" stroke="#000" stroke-width="6.7" stroke-linejoin="round"/>
<rect x="983" y="3301.57" width="43.7" height="43.7" fill="#aeaeae" stroke="#000" stroke-width="6.7" stroke-linejoin="round"/>
<rect x="1062.07" y="3261.09" width="43.7" height="43.7" fill="#aeaeae" stroke="#000" stroke-width="6.7" stroke-linejoin="round"/>
<rect x="1141.14" y="3245.48" width="43.7" height="43.7" fill="#aeaeae" stroke="#000" stroke-width="6.7" stroke-linejoin="round"/>
<rect x="1220.21" y="3232.39" width="43.7" height="43.7" fill="#aeaeae" stroke="#000" stroke-width="6.7" stroke-linejoin="round"/>
<rect x="1299.29" y="3210.23" width="43.7" height="43.7" fill="#aeaeae" stroke="#000" stroke-width="6.7" stroke-linejoin="round"/>
<rect x="1378.36" y="3191.1" width="43.7" height="43.7" fill="#aeaeae" stroke="#000" stroke-width="6.7" stroke-linejoin="round"/>
<rect x="1457.43" y="3191.1" width="43.7" height="43.7" fill="#aeaeae" stroke="#000" stroke-width="6.7" stroke-linejoin="round"/>
<rect x="1536.5" y="3191.1" width="43.7" height="43.7" fill="#aeaeae" stroke="#000" stroke-width="6.7" stroke-linejoin="round"/>
<path d="M372.27 3939.45L400.77 3996.95L343.77 3996.95Z" fill="#000"/>
<path d="M451.34 3939.45L479.84 3996.95L422.84 3996.95Z" fill="#000"/>
<path d="M530.42 3798.47L558.92 3855.97L501.92 3855.97Z" fill="#000"/>
<path d="M609.49 3654.47L637.99 3711.97L580.99 3711.97Z" fill="#000"/>
<path d="M688.56 3524.57L717.06 3582.07L660.06 3582.07Z" fill="#000"/>
<path d="M767.63 3450.05L796.13 3507.55L739.13 3507.55Z" fill="#000"/>
<path d="M846.7 3375.53L875.2 3433.03L818.2 3433.03Z" fill="#000"/>
<path d="M925.78 3324.48L954.28 3381.98L897.28 3381.98Z" fill="#000"/>
<path d="M1004.85 3288.53L1033.35 3346.03L976.35 3346.03Z" fill="#000"/>
<path d="M1083.92 3259.72L1112.42 3317.22L1055.42 3317.22Z" fill="#000"/>
<path d="M1162.99 3247.64L1191.49 3305.14L1134.49 3305.14Z" fill="#000"/>
<path d="M1242.06 3247.64L1270.56 3305.14L1213.56 3305.14Z" fill="#000"/>
<circle cx="372.27" cy="3968.2" r="21.2" fill="#000" stroke="none" stroke-width="0"/>
<circle cx="451.34" cy="3968.2" r="21.2" fill="#000" stroke="none" stroke-width="0"/>
<circle cx="530.42" cy="3861.96" r="21.2" fill="#000" stroke="none" stroke-width="0"/>
<circle cx="609.49" cy="3707.08" r="21.2" fill="#000" stroke="none" stroke-width="0"/>
<circle cx="688.56" cy="3569.43" r="21.2" fill="#000" stroke="none" stroke-width="0"/>
<circle cx="767.63" cy="3470.74" r="21.2" fill="#000" stroke="none" stroke-width="0"/>
<circle cx="846.7" cy="3393.2" r="21.2" fill="#000" stroke="none" stroke-width="0"/>
<circle cx="925.78" cy="3354.43" r="21.2" fill="#000" stroke="none" stroke-width="0"/>
<circle cx="1004.85" cy="3318.68" r="21.2" fill="#000" stroke="none" stroke-width="0"/>
<circle cx="1083.92" cy="3285.45" r="21.2" fill="#000" stroke="none" stroke-width="0"/>
<circle cx="1162.99" cy="3273.37" r="21.2" fill="#000" stroke="none" stroke-width="0"/>
<path d="M372.27 3942.7L398.27 3968.2L372.27 3993.7L346.27 3968.2Z" fill="#000" stroke="none" stroke-width="0"/>
<path d="M451.34 3942.7L477.34 3968.2L451.34 3993.7L425.34 3968.2Z" fill="#000" stroke="none" stroke-width="0"/>
<path d="M530.42 3830.42L556.42 3855.92L530.42 3881.42L504.42 3855.92Z" fill="#000" stroke="none" stroke-width="0"/>
<path d="M609.49 3724.18L635.49 3749.68L609.49 3775.18L583.49 3749.68Z" fill="#000" stroke="none" stroke-width="0"/>
<path d="M688.56 3629.52L714.56 3655.02L688.56 3680.52L662.56 3655.02Z" fill="#000" stroke="none" stroke-width="0"/>
<path d="M767.63 3555L793.63 3580.5L767.63 3606L741.63 3580.5Z" fill="#000" stroke="none" stroke-width="0"/>
<path d="M846.7 3472.43L872.7 3497.93L846.7 3523.43L820.7 3497.93Z" fill="#000" stroke="none" stroke-width="0"/>
<path d="M925.78 3438.19L951.78 3463.69L925.78 3489.19L899.78 3463.69Z" fill="#000" stroke="none" stroke-width="0"/>
<path d="M1004.85 3392.88L1030.85 3418.38L1004.85 3443.88L978.85 3418.38Z" fill="#000" stroke="none" stroke-width="0"/>
<path d="M1083.92 3347.56L1109.92 3373.06L1083.92 3398.56L1057.92 3373.06Z" fill="#000" stroke="none" stroke-width="0"/>
<path d="M1162.99 3332.46L1188.99 3357.96L1162.99 3383.46L1136.99 3357.96Z" fill="#000" stroke="none" stroke-width="0"/>
<path d="M1242.06 3311.31L1268.06 3336.81L1242.06 3362.31L1216.06 3336.81Z" fill="#000" stroke="none" stroke-width="0"/>
<path d="M1321.14 3282.11L1347.14 3307.61L1321.14 3333.11L1295.14 3307.61Z" fill="#000" stroke="none" stroke-width="0"/>
<path d="M1400.21 3268.01L1426.21 3293.51L1400.21 3319.01L1374.21 3293.51Z" fill="#000" stroke="none" stroke-width="0"/>
<path d="M1479.28 3262.97L1505.28 3288.47L1479.28 3313.97L1453.28 3288.47Z" fill="#000" stroke="none" stroke-width="0"/>
<path d="M1558.35 3231.76L1584.35 3257.26L1558.35 3282.76L1532.35 3257.26Z" fill="#000" stroke="none" stroke-width="0"/>
<path d="M1637.42 3236.79L1663.42 3262.29L1637.42 3287.79L1611.42 3262.29Z" fill="#000" stroke="none" stroke-width="0"/>
<path d="M1716.5 3207.59L1742.5 3233.09L1716.5 3258.59L1690.5 3233.09Z" fill="#000" stroke="none" stroke-width="0"/>
<path d="M1795.57 3207.59L1821.57 3233.09L1795.57 3258.59L1769.57 3233.09Z" fill="#000" stroke="none" stroke-width="0"/>
<path d="M1874.64 3207.59L1900.64 3233.09L1874.64 3258.59L1848.64 3233.09Z" fill="#000" stroke="none" stroke-width="0"/>
<path d="M1953.71 3207.59L1979.71 3233.09L1953.71 3258.59L1927.71 3233.09Z" fill="#000" stroke="none" stroke-width="0"/>
<path d="M2032.78 3207.59L2058.78 3233.09L2032.78 3258.59L2006.78 3233.09Z" fill="#000" stroke="none" stroke-width="0"/>
<path d="M293.2 2957.7L293.2 3991.4M293.2 3968.2L2273.5 3968.2M293.2 3968.2L316.5 3968.2M293.2 3867.5L316.5 3867.5M293.2 3766.8L316.5 3766.8M293.2 3666.1L316.5 3666.1M293.2 3565.4L316.5 3565.4M293.2 3464.7L316.5 3464.7M293.2 3364L316.5 3364M293.2 3263.3L316.5 3263.3M293.2 3162.6L316.5 3162.6M293.2 3061.9L316.5 3061.9M293.2 2961.2L316.5 2961.2M372.27 3951.4L372.27 3968.2M451.34 3951.4L451.34 3968.2M530.42 3951.4L530.42 3968.2M609.49 3951.4L609.49 3968.2M688.56 3951.4L688.56 3991.4M767.63 3951.4L767.63 3968.2M846.7 3951.4L846.7 3968.2M925.78 3951.4L925.78 3968.2M1004.85 3951.4L1004.85 3968.2M1083.92 3951.4L1083.92 3991.4M1162.99 3951.4L1162.99 3968.2M1242.06 3951.4L1242.06 3968.2M1321.14 3951.4L1321.14 3968.2M1400.21 3951.4L1400.21 3968.2M1479.28 3951.4L1479.28 3991.4M1558.35 3951.4L1558.35 3968.2M1637.42 3951.4L1637.42 3968.2M1716.5 3951.4L1716.5 3968.2M1795.57 3951.4L1795.57 3968.2M1874.64 3951.4L1874.64 3991.4M1953.71 3951.4L1953.71 3968.2M2032.78 3951.4L2032.78 3968.2M2111.86 3951.4L2111.86 3968.2M2190.93 3951.4L2190.93 3968.2M2270 3951.4L2270 3991.4" stroke="#000" stroke-width="7" fill="none"/>
<text x="227.9" y="3992.6" font-size="77" text-anchor="end" font-family='"Liberation Sans", sans-serif'>0</text>
<text x="227.9" y="3891.9" font-size="77" text-anchor="end" font-family='"Liberation Sans", sans-serif'>1</text>
<text x="227.9" y="3791.2" font-size="77" text-anchor="end" font-family='"Liberation Sans", sans-serif'>2</text>
<text x="227.9" y="3690.5" font-size="77" text-anchor="end" font-family='"Liberation Sans", sans-serif'>3</text>
<text x="227.9" y="3589.8" font-size="77" text-anchor="end" font-family='"Liberation Sans", sans-serif'>4</text>
<text x="227.9" y="3489.1" font-size="77" text-anchor="end" font-family='"Liberation Sans", sans-serif'>5</text>
<text x="227.9" y="3388.4" font-size="77" text-anchor="end" font-family='"Liberation Sans", sans-serif'>6</text>
<text x="227.9" y="3287.7" font-size="77" text-anchor="end" font-family='"Liberation Sans", sans-serif'>7</text>
<text x="227.9" y="3187" font-size="77" text-anchor="end" font-family='"Liberation Sans", sans-serif'>8</text>
<text x="227.9" y="3086.3" font-size="77" text-anchor="end" font-family='"Liberation Sans", sans-serif'>9</text>
<text x="227.9" y="2985.6" font-size="77" text-anchor="end" font-family='"Liberation Sans", sans-serif'>10</text>
<text x="292.6" y="4084.3" font-size="77" text-anchor="middle" font-family='"Liberation Sans", sans-serif'>0</text>
<text x="687.96" y="4084.3" font-size="77" text-anchor="middle" font-family='"Liberation Sans", sans-serif'>5</text>
<text x="1083.32" y="4084.3" font-size="77" text-anchor="middle" font-family='"Liberation Sans", sans-serif'>10</text>
<text x="1478.68" y="4084.3" font-size="77" text-anchor="middle" font-family='"Liberation Sans", sans-serif'>15</text>
<text x="1874.04" y="4084.3" font-size="77" text-anchor="middle" font-family='"Liberation Sans", sans-serif'>20</text>
<text x="2269.4" y="4084.3" font-size="77" text-anchor="middle" font-family='"Liberation Sans", sans-serif'>25</text>
<text transform="translate(96.1 4019) rotate(-90)" xml:space="preserve"><tspan x="-0.19" y="0" font-size="77" font-family='"Liberation Sans", sans-serif' textLength="256.96" lengthAdjust="spacingAndGlyphs">Angular</tspan> <tspan x="284.99" y="0" font-size="77" font-family='"Liberation Sans", sans-serif' textLength="300.18" lengthAdjust="spacingAndGlyphs">distortion</tspan><tspan x="580.89" y="-0.5" font-size="72" font-family='"Liberation Sans", sans-serif' textLength="24.55" lengthAdjust="spacingAndGlyphs">,</tspan> <tspan x="631.74" y="0.75" font-size="74.83" font-family='"Liberation Sans", sans-serif' font-style="italic" stroke="#fff" stroke-width="1.8" stroke-linejoin="round" textLength="53.71" lengthAdjust="spacingAndGlyphs">θ</tspan> <tspan x="702.08" y="0" font-size="78" font-family='"Liberation Serif", serif' textLength="275.26" lengthAdjust="spacing">(degree)</tspan></text>
<text xml:space="preserve"><tspan x="827.17" y="4167.4" font-size="77" font-family='"Liberation Sans", sans-serif' textLength="268.7" lengthAdjust="spacingAndGlyphs">Number</tspan> <tspan x="1122.66" y="4167.4" font-size="77" font-family='"Liberation Sans", sans-serif' textLength="63.67" lengthAdjust="spacingAndGlyphs">of</tspan> <tspan x="1209.28" y="4167.4" font-size="77" font-family='"Liberation Sans", sans-serif' textLength="248.69" lengthAdjust="spacingAndGlyphs">welding</tspan> <tspan x="1487.35" y="4167.4" font-size="77" font-family='"Liberation Sans", sans-serif' textLength="236.23" lengthAdjust="spacingAndGlyphs">passes</tspan></text>
<rect x="1468.1" y="3404.9" width="793.3" height="486" fill="#fff" stroke="#3a3a3a" stroke-width="2.6"/>
<path d="M1558.3 3433L1576.9 3454.5L1558.3 3476L1539.7 3454.5Z" fill="#fff" stroke="#444" stroke-width="1.4"/>
<path d="M1508.4 3455.7H1606.9" stroke="#000" stroke-width="6.3" fill="none"/>
<path d="M1558.3 3530.45L1579.3 3551.7L1558.3 3572.95L1537.3 3551.7Z" fill="#000" stroke="none" stroke-width="0"/>
<rect x="1536.15" y="3627.15" width="44.3" height="44.3" fill="#aeaeae" stroke="#1a1a1a" stroke-width="3.2"/>
<path d="M1558.3 3721.75L1582.05 3769.65L1534.55 3769.65Z" fill="#000"/>
<circle cx="1558.3" cy="3842.7" r="21.75" fill="#000" stroke="none" stroke-width="0"/>
<text xml:space="preserve"><tspan x="1614.22" y="3479.4" font-size="77" font-family='"Liberation Sans", sans-serif' textLength="184.69" lengthAdjust="spacingAndGlyphs">Cal.A</tspan> <tspan x="1822.63" y="3479.4" font-size="77" font-family='"Liberation Sans", sans-serif' textLength="149.54" lengthAdjust="spacingAndGlyphs">0.66</tspan> <tspan x="1992.08" y="3479.4" font-size="77" font-family='"Liberation Sans", sans-serif' textLength="227.44" lengthAdjust="spacingAndGlyphs">kJ/mm</tspan></text>
<text xml:space="preserve"><tspan x="1614.9" y="3577.4" font-size="77" font-family='"Liberation Sans", sans-serif' textLength="152.75" lengthAdjust="spacingAndGlyphs">Exp.</tspan> <tspan x="1788.65" y="3577.4" font-size="77" font-family='"Liberation Sans", sans-serif' textLength="148.6" lengthAdjust="spacingAndGlyphs">0.66</tspan> <tspan x="1957.9" y="3577.4" font-size="77" font-family='"Liberation Sans", sans-serif' textLength="226.81" lengthAdjust="spacingAndGlyphs">kJ/mm</tspan></text>
<text xml:space="preserve"><tspan x="1614.9" y="3673.8" font-size="77" font-family='"Liberation Sans", sans-serif' textLength="152.75" lengthAdjust="spacingAndGlyphs">Exp.</tspan> <tspan x="1788.65" y="3673.8" font-size="77" font-family='"Liberation Sans", sans-serif' textLength="148.6" lengthAdjust="spacingAndGlyphs">0.99</tspan> <tspan x="1957.9" y="3673.8" font-size="77" font-family='"Liberation Sans", sans-serif' textLength="226.81" lengthAdjust="spacingAndGlyphs">kJ/mm</tspan></text>
<text xml:space="preserve"><tspan x="1614.9" y="3771" font-size="77" font-family='"Liberation Sans", sans-serif' textLength="152.75" lengthAdjust="spacingAndGlyphs">Exp.</tspan> <tspan x="1788.65" y="3771" font-size="77" font-family='"Liberation Sans", sans-serif' textLength="148.6" lengthAdjust="spacingAndGlyphs">1.32</tspan> <tspan x="1957.9" y="3771" font-size="77" font-family='"Liberation Sans", sans-serif' textLength="226.81" lengthAdjust="spacingAndGlyphs">kJ/mm</tspan></text>
<text xml:space="preserve"><tspan x="1614.9" y="3867.5" font-size="77" font-family='"Liberation Sans", sans-serif' textLength="152.75" lengthAdjust="spacingAndGlyphs">Exp.</tspan> <tspan x="1788.65" y="3867.5" font-size="77" font-family='"Liberation Sans", sans-serif' textLength="148.6" lengthAdjust="spacingAndGlyphs">1.59</tspan> <tspan x="1957.9" y="3867.5" font-size="77" font-family='"Liberation Sans", sans-serif' textLength="226.81" lengthAdjust="spacingAndGlyphs">kJ/mm</tspan></text>
<text xml:space="preserve"><tspan x="1124.57" y="4307.61" font-size="86.06" font-family='"Liberation Serif", serif' textLength="26.12" lengthAdjust="spacingAndGlyphs">(</tspan><tspan x="1150.05" y="4307.78" font-size="82.5" font-family='"Liberation Serif", serif' font-weight="bold" textLength="36.2" lengthAdjust="spacingAndGlyphs">c</tspan><tspan x="1187.35" y="4307.61" font-size="86.06" font-family='"Liberation Serif", serif' textLength="26.12" lengthAdjust="spacingAndGlyphs">)</tspan></text>
</g>
</svg>
</body>
</html>
